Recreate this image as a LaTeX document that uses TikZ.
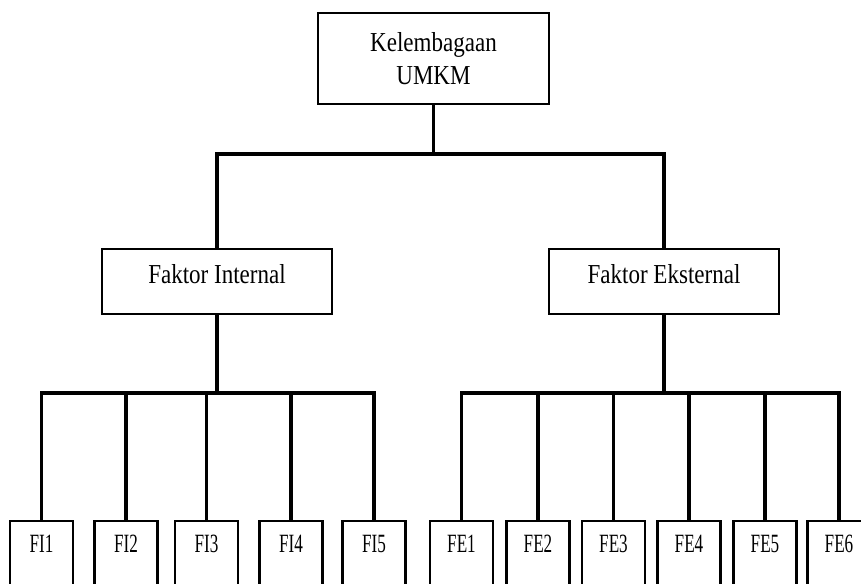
\documentclass[tikz,border=0pt]{standalone}
\usepackage{fontspec}
\setmainfont{Liberation Serif}
\newfontfamily\headfont[FakeStretch=0.84]{Liberation Serif}
\newfontfamily\itemfont[FakeStretch=0.65]{Liberation Serif}
\begin{document}
\begin{tikzpicture}[x=0.02cm,y=-0.02cm,
root/.style={draw,line width=1.4pt,minimum width=4.62cm,minimum height=1.82cm,align=center,font=\headfont\fontsize{15.6}{18.7}\selectfont},
factor/.style={draw,line width=1.4pt,minimum width=4.6cm,minimum height=1.3cm,text height=0.38cm,text depth=0.3cm,font=\headfont\fontsize{15.6}{18.7}\selectfont},
item/.style={draw,line width=1.4pt,anchor=north,minimum width=1.26cm,inner ysep=0.28cm,text height=0.34cm,text depth=1.5cm,font=\itemfont\fontsize{15}{17}\selectfont},
link/.style={line width=2pt},
]
\clip(0,0)rectangle(861,583);

%top
\node[root](umkm)at(433.5,58.5){Kelembagaan\\UMKM};
%factors
\node[factor](fi)at(217,281.5){Faktor Internal};
\node[factor](fe)at(664,281.5){Faktor Eksternal};
%internal items
\node[item](fi1)at(41.5,520){FI1};
\node[item](fi2)at(126,520){FI2};
\node[item](fi3)at(206.5,520){FI3};
\node[item](fi4)at(291,520){FI4};
\node[item](fi5)at(374,520){FI5};
%external items
\node[item](fe1)at(461.5,520){FE1};
\node[item](fe2)at(538,520){FE2};
\node[item](fe3)at(613.5,520){FE3};
\node[item](fe4)at(689,520){FE4};
\node[item](fe5)at(765,520){FE5};
\node[item](fe6)at(839,520){FE6};

%branch points
\coordinate(tophub)at(umkm.south|-0,154);
\coordinate(fihub)at(fi.south|-0,393);
\coordinate(fehub)at(fe.south|-0,393);

%links
\draw[link](umkm.south)--(tophub);
\draw[link](fi.north)|-(tophub)-|(fe.north);

\draw[link](fi.south)--(fihub);
\draw[link](fihub)-|(fi1.north);
\draw[link](fihub)-|(fi2.north);
\draw[link](fihub)-|(fi3.north);
\draw[link](fihub)-|(fi4.north);
\draw[link](fihub)-|(fi5.north);

\draw[link](fe.south)--(fehub);
\draw[link](fehub)-|(fe1.north);
\draw[link](fehub)-|(fe2.north);
\draw[link](fehub)-|(fe3.north);
\draw[link](fehub)-|(fe4.north);
\draw[link](fehub)-|(fe5.north);
\draw[link](fehub)-|(fe6.north);

\end{tikzpicture}
\end{document}
